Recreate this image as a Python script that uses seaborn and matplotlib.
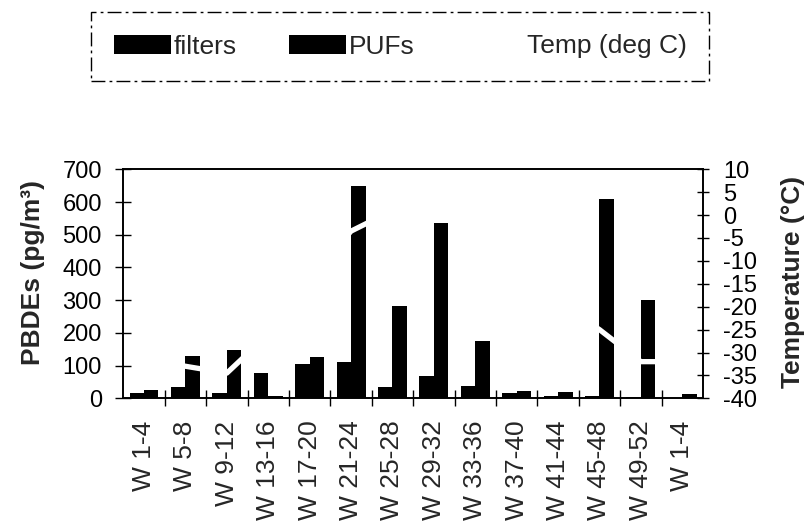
import numpy as np
import pandas as pd
import matplotlib
matplotlib.use("Agg")
import matplotlib.pyplot as plt
import seaborn as sns
from matplotlib.patches import Patch
from matplotlib.lines import Line2D
from matplotlib.ticker import FixedLocator

# ---- data ----
periods = ["W 1-4", "W 5-8", "W 9-12", "W 13-16", "W 17-20", "W 21-24", "W 25-28",
           "W 29-32", "W 33-36", "W 37-40", "W 41-44", "W 45-48", "W 49-52", "W 1-4"]
filters = [15, 35, 15, 76, 106, 111, 35, 68, 37, 17, 7, 8, 5, 0]
pufs = [25, 130, 149, 8, 127, 649, 281, 537, 175, 23, 18, 608, 300, 12]
temps = [-31, -33, -34.5, -26, -14, -3.5, 1, 2, -2, -11, -19, -25, -32, -32]
series_names = ["filters", "PUFs"]
temp_name = "Temp (deg C)"

sns.set_theme(style="white")
plt.rcParams["font.family"] = ["Liberation Sans", "DejaVu Sans"]
plt.rcParams["axes.unicode_minus"] = False

n = len(periods)
df = pd.DataFrame({
    "idx": list(range(n)) * 2,
    "value": filters + pufs,
    "series": [series_names[0]] * n + [series_names[1]] * n,
})

fig = plt.figure(figsize=(8.08, 5.27), dpi=100)
W, H = 808, 527
x0, x1, y0, y1 = 123.3, 703.0, 169.3, 398.3
ax = fig.add_axes([x0 / W, 1 - y1 / H, (x1 - x0) / W, (y1 - y0) / H])

sns.barplot(data=df, x="idx", y="value", hue="series", palette=["black", "black"],
            saturation=1, width=0.7, gap=0, linewidth=0, legend=False, ax=ax)
ax.set_xlim(-0.5, n - 0.5)
ax.set_ylim(0, 700)
ax.set_xlabel("")
ax.set_ylabel("PBDEs (pg/m³)", fontsize=19, fontweight="bold")
ax.yaxis.set_label_coords(-0.135, 0.55)
ax.set_yticks(np.arange(0, 701, 100))
ax.tick_params(axis="y", direction="inout", length=11, width=1, labelsize=17, pad=10,
               colors="black", left=True)
ax.set_xticks(range(n))
ax.set_xticklabels(periods, rotation=90, fontsize=19)
ax.tick_params(axis="x", which="major", length=0, pad=16)
ax.xaxis.set_minor_locator(FixedLocator(np.arange(0.5, n - 0.5, 1)))
ax.tick_params(axis="x", which="minor", direction="inout", length=11, width=1,
               colors="black", bottom=True)
for s in ax.spines.values():
    s.set_color("black")
    s.set_linewidth(1.2)
ax.grid(False)

ax2 = ax.twinx()
sns.lineplot(x=np.arange(n), y=temps, color="white", linewidth=3.8, ax=ax2)
ax2.set_xlim(-0.5, n - 0.5)
ax2.set_ylim(-40, 10)
ax2.set_yticks(np.arange(-40, 11, 5))
ax2.tick_params(axis="y", direction="inout", length=8.5, width=1, labelsize=17, pad=10,
                colors="black", right=True)
ax2.set_ylabel("Temperature (°C)", fontsize=19, fontweight="bold", rotation=90)
ax2.yaxis.set_label_coords(1.134, 0.51)
for s in ax2.spines.values():
    s.set_color("black")
    s.set_linewidth(1.2)
ax2.grid(False)

handles = [Patch(facecolor="black", edgecolor="none"),
           Patch(facecolor="black", edgecolor="none"),
           Line2D([0], [0], color="white", linewidth=3.8)]
leg = fig.legend(handles, series_names + [temp_name], loc="center",
                 bbox_to_anchor=(400 / W, 1 - 46.5 / H), ncol=3, fontsize=19,
                 frameon=True, fancybox=False, framealpha=1, handlelength=2.16,
                 handleheight=0.7, handletextpad=0.13, columnspacing=1.95,
                 borderpad=0.85)
fr = leg.get_frame()
fr.set_edgecolor("black")
fr.set_linewidth(1.0)
fr.set_linestyle((0, (10, 3, 2, 3)))

fig.savefig("out.png", dpi=100)
